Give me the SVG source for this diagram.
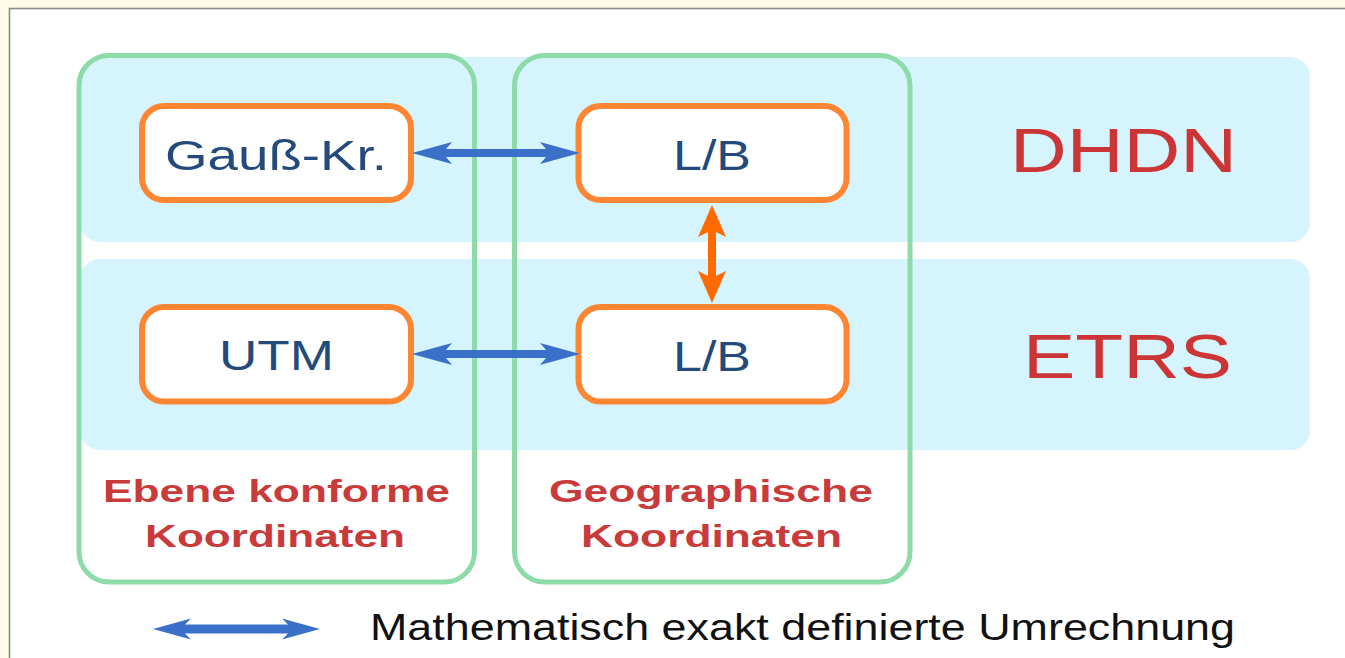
<svg xmlns="http://www.w3.org/2000/svg" width="1345" height="658" viewBox="0 0 1345 658">
<style>
.band{fill:#d5f4fd}
.col{fill:none;stroke:#8ddba8;stroke-width:5}
.box{fill:#fff;stroke:#fe8632;stroke-width:6}
.nt{font-family:"Liberation Sans",Arial,sans-serif;font-size:43px;fill:#244a7c;text-anchor:middle}
.big{font-family:"Liberation Sans",Arial,sans-serif;font-size:63px;fill:#cc3535;text-anchor:middle}
.lbl{font-family:"Liberation Sans",Arial,sans-serif;font-size:31px;font-weight:bold;fill:#c93a3a;text-anchor:middle}
.leg{font-family:"Liberation Sans",Arial,sans-serif;font-size:36px;fill:#111}
.ba{fill:#3a70c8}
.oa{fill:#ff6a00}
</style>
<rect x="0" y="0" width="1345" height="658" fill="#fffde7"/>
<rect x="9.5" y="8.5" width="1340" height="655" fill="#fff" stroke="#8a8a8a" stroke-width="1.6"/>
<g id="bands">
<rect class="band" x="80" y="57" width="1230" height="185" rx="20"/>
<rect class="band" x="80" y="259" width="1230" height="191" rx="20"/>
</g>
<g id="col-ebene">
<rect class="col" x="79" y="55.5" width="395.5" height="526.5" rx="30"/>
<text class="lbl" x="276.5" y="502" textLength="347" lengthAdjust="spacingAndGlyphs">Ebene konforme</text>
<text class="lbl" x="275" y="547" textLength="260" lengthAdjust="spacingAndGlyphs">Koordinaten</text>
</g>
<g id="col-geo">
<rect class="col" x="514.5" y="55.5" width="395.5" height="526.5" rx="30"/>
<text class="lbl" x="711" y="502" textLength="324" lengthAdjust="spacingAndGlyphs">Geographische</text>
<text class="lbl" x="711.5" y="547" textLength="261" lengthAdjust="spacingAndGlyphs">Koordinaten</text>
</g>
<g id="gauss">
<rect class="box" x="142" y="106" width="269" height="94" rx="22"/>
<text class="nt" x="276" y="170" textLength="222" lengthAdjust="spacingAndGlyphs">Gauß-Kr.</text>
</g>
<g id="lb-dhdn">
<rect class="box" x="578.5" y="106" width="268" height="94" rx="22"/>
<text class="nt" x="712" y="170" textLength="78" lengthAdjust="spacingAndGlyphs">L/B</text>
</g>
<g id="utm">
<rect class="box" x="142" y="307" width="269" height="94.5" rx="22"/>
<text class="nt" x="276.5" y="370" textLength="115" lengthAdjust="spacingAndGlyphs">UTM</text>
</g>
<g id="lb-etrs">
<rect class="box" x="578.5" y="307" width="268" height="94.5" rx="22"/>
<text class="nt" x="712" y="371" textLength="78" lengthAdjust="spacingAndGlyphs">L/B</text>
</g>
<g id="dhdn">
<text class="big" x="1123.5" y="172" textLength="227" lengthAdjust="spacingAndGlyphs">DHDN</text>
</g>
<g id="etrs">
<text class="big" x="1127.5" y="378" font-size="64" textLength="209" lengthAdjust="spacingAndGlyphs">ETRS</text>
</g>
<g id="connectors">
<path class="ba" d="M412,153 L452,142 L446,149 L546,149 L540,142 L580,153 L540,164 L546,157 L446,157 L452,164 Z"/>
<path class="ba" d="M412,354 L452,343 L446,350 L546,350 L540,343 L580,354 L540,365 L546,358 L446,358 L452,365 Z"/>
<path class="oa" d="M712,205 L726,237 L716,232 L716,276 L726,271 L712,303 L698,271 L708,276 L708,232 L698,237 Z"/>
</g>
<g id="legend">
<path class="ba" d="M153,629 L191,618.5 L185,624.5 L288,624.5 L282,618.5 L320,629 L282,639.5 L288,633.5 L185,633.5 L191,639.5 Z"/>
<text class="leg" x="370" y="640" textLength="865" lengthAdjust="spacingAndGlyphs">Mathematisch exakt definierte Umrechnung</text>
</g>
</svg>
